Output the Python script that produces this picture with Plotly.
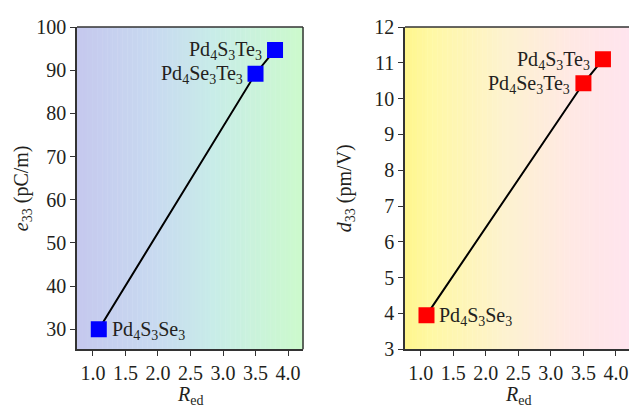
import plotly.graph_objects as go

# ---- data ----
r_ed = [1.09, 3.5, 3.8]
e33 = [30.0, 89.2, 94.7]
d33 = [3.95, 10.43, 11.1]
names = ["Pd<sub>4</sub>S<sub>3</sub>Se<sub>3</sub>",
         "Pd<sub>4</sub>Se<sub>3</sub>Te<sub>3</sub>",
         "Pd<sub>4</sub>S<sub>3</sub>Te<sub>3</sub>"]
x_ticks = [1.0, 1.5, 2.0, 2.5, 3.0, 3.5, 4.0]
e_ticks = [30, 40, 50, 60, 70, 80, 90, 100]
d_ticks = [3, 4, 5, 6, 7, 8, 9, 10, 11, 12]

FONT = "Liberation Serif"
TXT = "#231f20"

fig = go.Figure()

fig.add_trace(go.Scatter(x=r_ed, y=e33, mode="lines+markers", xaxis="x", yaxis="y",
                         line=dict(color="black", width=2),
                         marker=dict(symbol="square", size=16, color="#0000ff"),
                         showlegend=False))
fig.add_trace(go.Scatter(x=r_ed, y=d33, mode="lines+markers", xaxis="x2", yaxis="y2",
                         line=dict(color="black", width=2),
                         marker=dict(symbol="square", size=16, color="#ff0000"),
                         showlegend=False))

def lerp_stops(stops, t):
    for i in range(len(stops) - 1):
        t0, c0 = stops[i]
        t1, c1 = stops[i + 1]
        if t0 <= t <= t1:
            f = (t - t0) / (t1 - t0) if t1 > t0 else 0
            return "rgb(%d,%d,%d)" % tuple(round(c0[k] + (c1[k] - c0[k]) * f) for k in range(3))
    return "rgb(%d,%d,%d)" % stops[-1][1]

left_stops = [(0.0, (197, 200, 238)), (0.35, (200, 218, 240)), (0.6, (200, 236, 232)), (1.0, (204, 250, 204))]
right_stops = [(0.0, (255, 246, 140)), (0.12, (255, 248, 165)), (0.45, (253, 242, 208)), (0.75, (255, 232, 228)), (1.0, (255, 228, 238))]

shapes = []
N = 90
for xref, yref, stops in [("x domain", "y domain", left_stops), ("x2 domain", "y2 domain", right_stops)]:
    for i in range(N):
        shapes.append(dict(type="rect", xref=xref, yref=yref, x0=i / N, x1=(i + 1) / N + 0.002,
                           y0=0, y1=1, fillcolor=lerp_stops(stops, (i + 0.5) / N),
                           line=dict(width=0), layer="below"))
shapes.append(dict(type="line", xref="x domain", yref="y domain", x0=0, x1=1, y0=1, y1=1,
                   line=dict(color="#333333", width=1.5)))
shapes.append(dict(type="line", xref="x domain", yref="y domain", x0=1, x1=1, y0=0, y1=1,
                   line=dict(color="#333333", width=1.5)))
shapes.append(dict(type="line", xref="x2 domain", yref="y2 domain", x0=0, x1=1, y0=1, y1=1,
                   line=dict(color="#333333", width=1.5)))

axis_common = dict(showline=True, linecolor="#333333", linewidth=1.5, ticks="outside",
                   ticklen=5, tickcolor="#333333", tickwidth=1.2, showgrid=False, zeroline=False,
                   tickfont=dict(family=FONT, size=20, color=TXT))

ann = []
def lab(xr, yr, x, y, text, anchor, xshift):
    ann.append(dict(xref=xr, yref=yr, x=x, y=y, text=text, showarrow=False,
                    xanchor=anchor, yanchor="middle", xshift=xshift, yshift=-1,
                    font=dict(family=FONT, size=20, color=TXT)))

for xr, yr, ys in [("x", "y", e33), ("x2", "y2", d33)]:
    lab(xr, yr, r_ed[0], ys[0], names[0], "left", 11)
    lab(xr, yr, r_ed[1], ys[1], names[1], "right", -11)
    lab(xr, yr, r_ed[2], ys[2], names[2], "right", -11)

TF = dict(family=FONT, size=20, color=TXT)
ann.append(dict(xref="paper", yref="paper", x=22 / 629, y=(417 - 187) / 417,
                text="<i>e</i><sub>33</sub> (pC/m)", textangle=-90, showarrow=False,
                xanchor="center", yanchor="middle", font=TF))
ann.append(dict(xref="paper", yref="paper", x=345 / 629, y=(417 - 187) / 417,
                text="<i>d</i><sub>33</sub> (pm/V)", textangle=-90, showarrow=False,
                xanchor="center", yanchor="middle", font=TF))
ann.append(dict(xref="paper", yref="paper", x=190 / 629, y=(417 - 406) / 417,
                text="<i>R</i><sub>ed</sub>", showarrow=False,
                xanchor="center", yanchor="middle", font=TF))
ann.append(dict(xref="paper", yref="paper", x=518 / 629, y=(417 - 406) / 417,
                text="<i>R</i><sub>ed</sub>", showarrow=False,
                xanchor="center", yanchor="middle", font=TF))

ydom = [(417 - 357) / 417, (417 - 17) / 417]
fig.update_layout(
    width=629, height=417, margin=dict(l=0, r=0, t=0, b=0),
    paper_bgcolor="white", plot_bgcolor="rgba(0,0,0,0)",
    xaxis=dict(domain=[77 / 629, 303 / 629], range=[0.755, 4.23], tickvals=x_ticks,
               ticktext=["%.1f" % v for v in x_ticks], anchor="y", **axis_common),
    yaxis=dict(domain=ydom, range=[25.4, 100], tickvals=e_ticks, anchor="x", **axis_common),
    xaxis2=dict(domain=[405 / 629, 1.0], range=[0.76, 4.2], tickvals=x_ticks,
                ticktext=["%.1f" % v for v in x_ticks], anchor="y2", **axis_common),
    yaxis2=dict(domain=ydom, range=[3, 12], tickvals=d_ticks, anchor="x2", **axis_common),
    shapes=shapes, annotations=ann,
)

fig.write_html("out.html")
